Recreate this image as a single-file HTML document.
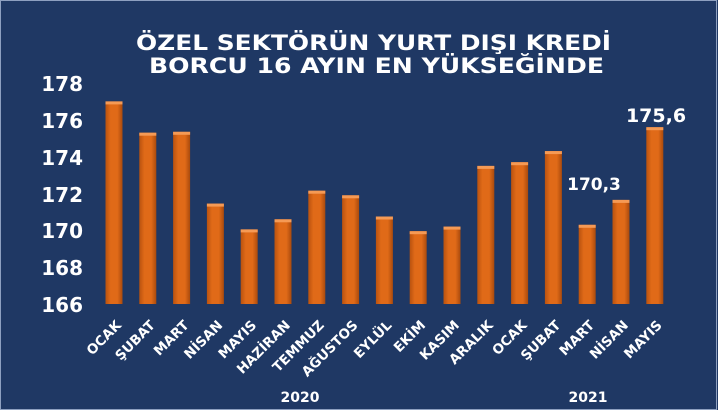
<!DOCTYPE html>
<html><head><meta charset="utf-8"><style>
html,body{margin:0;padding:0;background:#1f3864;}
svg{display:block;}
text{font-family:"DejaVu Sans","Liberation Sans",sans-serif;font-weight:bold;fill:#fff;}
.b{fill:url(#g);}
.h{fill:#f59a55;}
</style></head><body>
<svg width="718" height="410" viewBox="0 0 718 410">
<defs>
<linearGradient id="g" x1="0" x2="1" y1="0" y2="0">
<stop offset="0" stop-color="#b9520f"/><stop offset="0.3" stop-color="#e06a18"/><stop offset="0.7" stop-color="#e06a18"/><stop offset="1" stop-color="#a94a0d"/>
</linearGradient>
</defs>
<rect x="0" y="0" width="718" height="410" fill="#1f3864"/>
<rect x="0.5" y="0.5" width="716" height="409" fill="none" stroke="#8ea0c0" stroke-width="1"/>
<text x="136" y="50" font-size="21.5" textLength="475" lengthAdjust="spacingAndGlyphs">ÖZEL SEKTÖRÜN YURT DIŞI KREDİ</text>
<text x="149" y="73" font-size="21.5" textLength="455" lengthAdjust="spacingAndGlyphs">BORCU 16 AYIN EN YÜKSEĞİNDE</text>
<g font-size="20" text-anchor="end">
<text x="83" y="91">178</text>
<text x="83" y="128">176</text>
<text x="83" y="165">174</text>
<text x="83" y="202">172</text>
<text x="83" y="238">170</text>
<text x="83" y="275">168</text>
<text x="83" y="312">166</text>
</g>
<g>
<rect class="b" x="105.5" y="101.4" width="17" height="202.6"/><rect class="h" x="105.5" y="101.4" width="17" height="3"/>
<rect class="b" x="139.3" y="132.7" width="17" height="171.3"/><rect class="h" x="139.3" y="132.7" width="17" height="3"/>
<rect class="b" x="173.1" y="131.8" width="17" height="172.2"/><rect class="h" x="173.1" y="131.8" width="17" height="3"/>
<rect class="b" x="206.9" y="203.6" width="17" height="100.4"/><rect class="h" x="206.9" y="203.6" width="17" height="3"/>
<rect class="b" x="240.7" y="229.4" width="17" height="74.6"/><rect class="h" x="240.7" y="229.4" width="17" height="3"/>
<rect class="b" x="274.5" y="219.3" width="17" height="84.7"/><rect class="h" x="274.5" y="219.3" width="17" height="3"/>
<rect class="b" x="308.3" y="190.7" width="17" height="113.3"/><rect class="h" x="308.3" y="190.7" width="17" height="3"/>
<rect class="b" x="342.1" y="195.3" width="17" height="108.7"/><rect class="h" x="342.1" y="195.3" width="17" height="3"/>
<rect class="b" x="375.9" y="216.5" width="17" height="87.5"/><rect class="h" x="375.9" y="216.5" width="17" height="3"/>
<rect class="b" x="409.7" y="231.2" width="17" height="72.8"/><rect class="h" x="409.7" y="231.2" width="17" height="3"/>
<rect class="b" x="443.5" y="226.6" width="17" height="77.4"/><rect class="h" x="443.5" y="226.6" width="17" height="3"/>
<rect class="b" x="477.3" y="165.9" width="17" height="138.1"/><rect class="h" x="477.3" y="165.9" width="17" height="3"/>
<rect class="b" x="511.1" y="162.2" width="17" height="141.8"/><rect class="h" x="511.1" y="162.2" width="17" height="3"/>
<rect class="b" x="544.9" y="151.1" width="17" height="152.9"/><rect class="h" x="544.9" y="151.1" width="17" height="3"/>
<rect class="b" x="578.7" y="224.8" width="17" height="79.2"/><rect class="h" x="578.7" y="224.8" width="17" height="3"/>
<rect class="b" x="612.5" y="199.9" width="17" height="104.1"/><rect class="h" x="612.5" y="199.9" width="17" height="3"/>
<rect class="b" x="646.3" y="127.2" width="17" height="176.8"/><rect class="h" x="646.3" y="127.2" width="17" height="3"/>
</g>
<g font-size="13.5" text-anchor="end">
<text transform="translate(122,326) rotate(-45)">OCAK</text>
<text transform="translate(155.8,326) rotate(-45)">ŞUBAT</text>
<text transform="translate(189.6,326) rotate(-45)">MART</text>
<text transform="translate(223.4,326) rotate(-45)">NİSAN</text>
<text transform="translate(257.2,326) rotate(-45)">MAYIS</text>
<text transform="translate(291,326) rotate(-45)">HAZİRAN</text>
<text transform="translate(324.8,326) rotate(-45)">TEMMUZ</text>
<text transform="translate(358.6,326) rotate(-45)">AĞUSTOS</text>
<text transform="translate(392.4,326) rotate(-45)">EYLÜL</text>
<text transform="translate(426.2,326) rotate(-45)">EKİM</text>
<text transform="translate(460,326) rotate(-45)">KASIM</text>
<text transform="translate(493.8,326) rotate(-45)">ARALIK</text>
<text transform="translate(527.6,326) rotate(-45)">OCAK</text>
<text transform="translate(561.4,326) rotate(-45)">ŞUBAT</text>
<text transform="translate(595.2,326) rotate(-45)">MART</text>
<text transform="translate(629,326) rotate(-45)">NİSAN</text>
<text transform="translate(662.8,326) rotate(-45)">MAYIS</text>
</g>
<text x="300" y="402" font-size="14" text-anchor="middle">2020</text>
<text x="588" y="402" font-size="14" text-anchor="middle">2021</text>
<text x="594" y="190" font-size="17" text-anchor="middle">170,3</text>
<text x="656" y="122" font-size="19" text-anchor="middle">175,6</text>
</svg>
</body></html>
